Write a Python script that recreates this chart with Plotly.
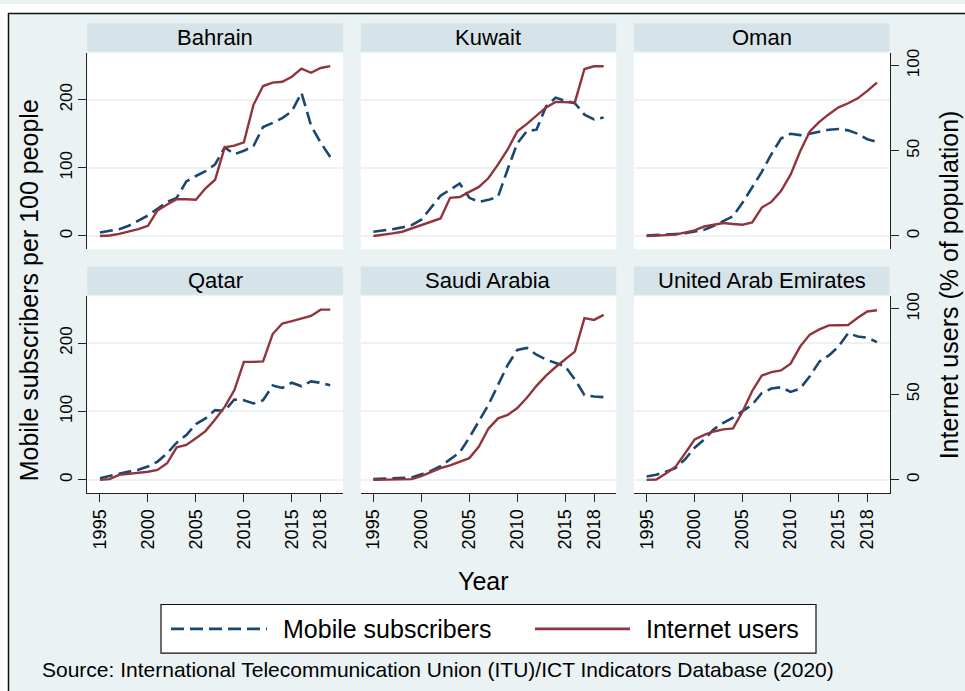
import plotly.graph_objects as go

W, H = 965, 691

years = list(range(1995, 2020))
countries = ["Bahrain", "Kuwait", "Oman", "Qatar", "Saudi Arabia", "United Arab Emirates"]

bahrain_mobile = [5, 7, 10, 15, 22, 30, 40, 50, 56, 80, 88, 95, 105, 130, 120, 125, 132, 160, 166, 173, 183, 210, 162, 137, 116]
bahrain_internet = [0.0, 0.3, 1.2, 2.7, 4.0, 6.0, 15.0, 18.5, 21.6, 21.6, 21.3, 28.0, 33.0, 52.0, 53.0, 55.0, 77.0, 88.0, 90.0, 90.5, 93.5, 98.2, 95.8, 98.6, 99.7]

kuwait_mobile = [6.3, 8, 10, 12.6, 16, 24, 42, 59, 68, 77, 56, 50, 53, 58, 98, 136, 154, 156, 190, 203, 198, 195, 178, 171, 174]
kuwait_internet = [0.0, 0.6, 1.5, 2.5, 4.5, 6.7, 8.6, 10.3, 22.4, 22.9, 25.9, 28.8, 34.0, 42.0, 50.8, 61.4, 65.8, 70.5, 75.5, 78.7, 78.4, 78.4, 98.0, 99.6, 99.6]

oman_mobile = [0.5, 1, 1.5, 3, 4, 6, 9, 15, 22, 29, 49, 71, 94, 120, 143, 150, 148, 150, 153, 156, 157, 155, 150, 142, 138]
oman_internet = [0.0, 0.1, 0.5, 0.8, 2.1, 3.3, 5.6, 6.6, 7.6, 7.0, 6.6, 8.0, 16.7, 20.0, 26.4, 36.0, 49.7, 61.4, 67.0, 71.5, 75.5, 77.9, 80.8, 85.2, 90.0]

qatar_mobile = [2.4, 5, 8.7, 12, 14.6, 19.4, 26.7, 38.8, 54.4, 65.5, 81.6, 89.8, 102, 101, 117.5, 116.5, 111.7, 116.5, 138, 134.5, 142, 136.9, 144, 142, 138.3]
qatar_internet = [0.0, 0.4, 2.9, 3.5, 3.9, 4.7, 5.8, 9.7, 19.0, 20.4, 24.3, 28.5, 35.3, 42.7, 52.4, 69.0, 69.0, 69.3, 85.3, 91.5, 92.9, 94.3, 95.9, 99.6, 99.6]

saudi_mobile = [1, 1.5, 2, 2.5, 3.4, 8, 13, 20, 30, 40, 61.7, 86, 110, 139, 168, 190, 193, 183, 176, 171, 166, 147, 124, 122, 121]
saudi_internet = [0.0, 0.0, 0.1, 0.2, 0.4, 2.2, 4.7, 6.8, 8.5, 10.5, 12.7, 19.5, 30.0, 36.0, 38.0, 42.0, 48.0, 55.0, 61.0, 66.0, 70.3, 75.0, 94.6, 93.6, 96.5]

uae_mobile = [4.9, 7.3, 12, 17, 30, 47, 59, 74, 83.5, 91, 100.5, 110, 127, 133.5, 135.4, 128.6, 133.5, 151.5, 173, 182, 195, 214.6, 209.7, 208, 201.5]
uae_internet = [0.0, 0.2, 3.7, 7.6, 15.5, 23.6, 26.3, 28.3, 29.5, 30.1, 40.0, 52.0, 61.0, 63.0, 64.0, 68.0, 78.0, 85.0, 88.0, 90.4, 90.5, 90.6, 94.8, 98.5, 99.2]

mobile_series = [bahrain_mobile, kuwait_mobile, oman_mobile, qatar_mobile, saudi_mobile, uae_mobile]
internet_series = [bahrain_internet, kuwait_internet, oman_internet, qatar_internet, saudi_internet, uae_internet]

x_ticks = [1995, 2000, 2005, 2010, 2015, 2018]
left_ticks = [0, 100, 200]
right_ticks = [0, 50, 100]

BG = "#EAF2F3"
STRIP = "#D6E3E9"
NAVY = "#1A476F"
MAROON = "#90353B"
FONT = "Liberation Sans, Arial, sans-serif"
AXC = "#222222"

def px(xp):
    return xp / W

def py(yp):
    return 1 - yp / H

col_left = [87.3, 360.7, 634.0]
col_w = 255.6
row_top = [49.3, 294.0]
row_bot = [246.7, 492.0]

fig = go.Figure()
layout = dict(
    width=W, height=H,
    margin=dict(l=0, r=0, t=0, b=0),
    paper_bgcolor=BG, plot_bgcolor="white",
    showlegend=False,
    font=dict(family=FONT, color="black"),
)
shapes = []
annotations = []

for i, name in enumerate(countries):
    r, c = divmod(i, 3)
    xs = "" if i == 0 else str(i + 1)
    xa = "x" + xs
    yl = "y" + xs
    yr = "y" + str(i + 7)
    xdom = [px(col_left[c]), px(col_left[c] + col_w)]
    ydom = [py(row_bot[r]), py(row_top[r])]

    layout["xaxis" + xs] = dict(
        domain=xdom, anchor=yl, range=[1993.68, 2020.32],
        tickmode="array", tickvals=x_ticks,
        showgrid=False, zeroline=False,
        showline=(r == 1), linecolor=AXC, linewidth=1,
        ticks="outside" if r == 1 else "", ticklen=8, tickcolor=AXC,
        showticklabels=(r == 1), tickangle=-90,
        tickfont=dict(size=18, family=FONT, color="black"),
    )
    layout["yaxis" + xs] = dict(
        domain=ydom, anchor=xa, range=[-19.5, 268.5],
        tickmode="array", tickvals=left_ticks,
        showgrid=True, gridcolor=BG, gridwidth=1.5, zeroline=False,
        showline=(c == 0), linecolor=AXC, linewidth=1,
        ticks="outside" if c == 0 else "", ticklen=8, tickcolor=AXC,
        showticklabels=(c == 0), tickangle=-90,
        tickfont=dict(size=17, family=FONT, color="black"),
    )
    layout["yaxis" + str(i + 7)] = dict(
        domain=ydom, anchor=xa, overlaying=yl, side="right",
        range=[-19.5 / 2.5, 268.5 / 2.5],
        tickmode="array", tickvals=right_ticks,
        showgrid=False, zeroline=False,
        showline=(c == 2), linecolor=AXC, linewidth=1,
        ticks="outside" if c == 2 else "", ticklen=8, tickcolor=AXC,
        showticklabels=(c == 2), tickangle=-90,
        tickfont=dict(size=17, family=FONT, color="black"),
    )

    fig.add_trace(go.Scatter(
        x=years, y=mobile_series[i], xaxis=xa, yaxis=yl, mode="lines",
        name="Mobile subscribers",
        line=dict(color=NAVY, width=2.6, dash="13px,6px"),
    ))
    fig.add_trace(go.Scatter(
        x=years, y=internet_series[i], xaxis=xa, yaxis=yr, mode="lines",
        name="Internet users",
        line=dict(color=MAROON, width=2.4),
    ))

    # strip header
    s_top = row_top[r] - 30.0
    s_bot = row_top[r] - 1.6
    shapes.append(dict(type="rect", xref="paper", yref="paper",
                       x0=xdom[0], x1=xdom[1], y0=py(s_bot), y1=py(s_top),
                       fillcolor=STRIP, line=dict(width=0), layer="below"))
    annotations.append(dict(text=name, xref="paper", yref="paper",
                            x=(xdom[0] + xdom[1]) / 2, y=py((s_top + s_bot) / 2),
                            xanchor="center", yanchor="middle", showarrow=False,
                            font=dict(size=22, family=FONT, color="black")))

# outer frame (white outside, black border on left/top)
shapes.append(dict(type="rect", xref="paper", yref="paper", x0=0, x1=px(8), y0=0, y1=1,
                   fillcolor="white", line=dict(width=0), layer="above"))
shapes.append(dict(type="rect", xref="paper", yref="paper", x0=0, x1=1, y0=py(9), y1=1,
                   fillcolor="white", line=dict(width=0), layer="above"))
shapes.append(dict(type="line", xref="paper", yref="paper", x0=px(8.5), x1=px(8.5), y0=0, y1=py(9),
                   line=dict(color="#111111", width=1.5), layer="above"))
shapes.append(dict(type="line", xref="paper", yref="paper", x0=px(8), x1=1.01, y0=py(9.5), y1=py(9.5),
                   line=dict(color="#111111", width=1.5), layer="above"))

# legend box
shapes.append(dict(type="rect", xref="paper", yref="paper", x0=px(161), x1=px(816), y0=py(653), y1=py(604),
                   fillcolor="white", line=dict(color="#111111", width=1.2), layer="below"))
shapes.append(dict(type="line", xref="paper", yref="paper", x0=px(171), x1=px(267), y0=py(628.5), y1=py(628.5),
                   line=dict(color=NAVY, width=2.6, dash="13px,6px")))
shapes.append(dict(type="line", xref="paper", yref="paper", x0=px(535), x1=px(630), y0=py(628.5), y1=py(628.5),
                   line=dict(color=MAROON, width=2.6)))
annotations.append(dict(text="Mobile subscribers", xref="paper", yref="paper", x=px(281), y=py(629),
                        xanchor="left", yanchor="middle", showarrow=False,
                        font=dict(size=25, family=FONT, color="black")))
annotations.append(dict(text="Internet users", xref="paper", yref="paper", x=px(644), y=py(629),
                        xanchor="left", yanchor="middle", showarrow=False,
                        font=dict(size=25, family=FONT, color="black")))

# axis titles
annotations.append(dict(text="Year", xref="paper", yref="paper", x=px(484), y=py(580),
                        xanchor="center", yanchor="middle", showarrow=False,
                        font=dict(size=25, family=FONT, color="black")))
annotations.append(dict(text="Mobile subscribers per 100 people", xref="paper", yref="paper",
                        x=px(29), y=py(288), xanchor="center", yanchor="middle", textangle=-90,
                        showarrow=False, font=dict(size=25, family=FONT, color="black")))
annotations.append(dict(text="Internet users (% of population)", xref="paper", yref="paper",
                        x=px(949), y=py(283), xanchor="center", yanchor="middle", textangle=-90,
                        showarrow=False, font=dict(size=25, family=FONT, color="black")))
annotations.append(dict(text="Source: International Telecommunication Union (ITU)/ICT Indicators Database (2020)",
                        xref="paper", yref="paper", x=px(40), y=py(669), xanchor="left", yanchor="middle",
                        showarrow=False, font=dict(size=21, family=FONT, color="black")))

layout["shapes"] = shapes
layout["annotations"] = annotations
fig.update_layout(**layout)
fig.write_html(
    "out.html",
    config={"displayModeBar": False},
    post_script="document.body.style.margin='0';document.body.style.padding='0';document.body.style.overflow='hidden';",
)
